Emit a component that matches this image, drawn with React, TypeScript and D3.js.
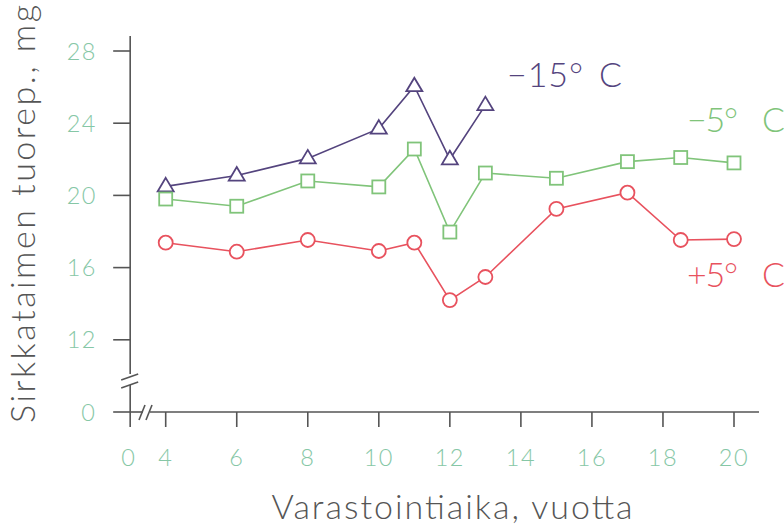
import React from "react";
import * as d3 from "d3";

const years = [4, 6, 8, 10, 11, 12, 13, 15, 17, 18.5, 20];
const minus15 = [20.5, 21.1, 22.05, 23.7, 26.05, 22.0, 25.0];
const minus5 = [19.8, 19.4, 20.8, 20.47, 22.57, 17.97, 21.24, 20.95, 21.87, 22.1, 21.8];
const plus5 = [17.38, 16.88, 17.53, 16.92, 17.38, 14.2, 15.48, 19.25, 20.15, 17.53, 17.58];

const xTicks = [4, 6, 8, 10, 12, 14, 16, 18, 20];
const yTicks = [12, 16, 20, 24, 28];
const seriesLabels = [
  { name: "−15°", unit: "C" },
  { name: "−5°", unit: "C" },
  { name: "+5°", unit: "C" },
];
const xTitle = "Varastointiaika, vuotta";
const yTitle = "Sirkkataimen tuorep., mg";

const W = 784;
const H = 527;
const FONT = "Lato, 'DejaVu Sans', sans-serif";
const AXIS = "#555555";
const TICKC = "#86c7a6";
const PURPLE = "#54447e";
const GREEN = "#80c47a";
const RED = "#e8525e";

// broken axes: visual "0" sits one unit left of 4 on x, and at 8 on y
const x = d3.scaleLinear().domain([4, 20]).range([165.7, 734]);
const y = d3.scaleLinear().domain([8, 28]).range([412, 51]);

export default function App() {
  const s15 = minus15.map((v, i) => [years[i], v] as [number, number]);
  const s5 = minus5.map((v, i) => [years[i], v] as [number, number]);
  const p5 = plus5.map((v, i) => [years[i], v] as [number, number]);
  const line = d3
    .line<[number, number]>()
    .x((d) => x(d[0]))
    .y((d) => y(d[1]));

  const x0 = x(3); // position of the "0" on x
  const y0 = y(8); // position of the "0" on y
  const yAxisX = x0;
  const xEnd = 759;

  const tri = (cx: number, cy: number) =>
    `M${cx},${cy - 8.5}L${cx + 8},${cy + 5}L${cx - 8},${cy + 5}Z`;

  return (
    <svg
      width={W}
      height={H}
      style={{ position: "absolute", left: 0, top: 0, background: "#fff" }}
      fontFamily={FONT}
    >
      {/* Y axis with break */}
      <line x1={yAxisX} x2={yAxisX} y1={36} y2={374} stroke={AXIS} strokeWidth={1.6} />
      <line x1={yAxisX} x2={yAxisX} y1={385} y2={427} stroke={AXIS} strokeWidth={1.6} />
      <line x1={yAxisX - 9} y1={380} x2={yAxisX + 8} y2={374} stroke={AXIS} strokeWidth={1.6} />
      <line x1={yAxisX - 9} y1={388} x2={yAxisX + 8} y2={382} stroke={AXIS} strokeWidth={1.6} />
      {yTicks.map((t) => (
        <g key={t}>
          <line x1={yAxisX - 17} x2={yAxisX} y1={y(t)} y2={y(t)} stroke={AXIS} strokeWidth={1.6} />
          <text x={97} y={y(t) + 8.5} textAnchor="end" fontSize={23.5} fontWeight={300} fill={TICKC} letterSpacing={1.5}>
            {t}
          </text>
        </g>
      ))}
      <line x1={yAxisX - 17} x2={yAxisX} y1={y0} y2={y0} stroke={AXIS} strokeWidth={1.6} />
      <text x={95} y={y0 + 8.5} textAnchor="end" fontSize={23.5} fontWeight={300} fill={TICKC}>
        0
      </text>

      {/* X axis with break */}
      <line x1={yAxisX} x2={143} y1={y0} y2={y0} stroke={AXIS} strokeWidth={1.6} />
      <line x1={150} x2={xEnd} y1={y0} y2={y0} stroke={AXIS} strokeWidth={1.6} />
      <line x1={139} y1={420} x2={145} y2={405} stroke={AXIS} strokeWidth={1.6} />
      <line x1={146} y1={420} x2={152} y2={405} stroke={AXIS} strokeWidth={1.6} />
      {xTicks.map((t) => (
        <g key={t}>
          <line x1={x(t)} x2={x(t)} y1={y0} y2={y0 + 15} stroke={AXIS} strokeWidth={1.6} />
          <text x={x(t)} y={466} textAnchor="middle" fontSize={23.5} fontWeight={300} fill={TICKC} letterSpacing={1.5}>
            {t}
          </text>
        </g>
      ))}
      <text x={x0 - 2} y={466} textAnchor="middle" fontSize={23.5} fontWeight={300} fill={TICKC}>
        0
      </text>

      {/* Titles */}
      <text
        x={452}
        y={519}
        textAnchor="middle"
        fontSize={34}
        fontWeight={300}
        fill={AXIS}
        textLength={361}
        lengthAdjust="spacing"
      >
        {xTitle}
      </text>
      <text
        transform="translate(35,214) rotate(-90)"
        textAnchor="middle"
        fontSize={34}
        fontWeight={300}
        fill={AXIS}
        textLength={418}
        lengthAdjust="spacing"
      >
        {yTitle}
      </text>

      {/* Lines */}
      <path d={line(s15) || ""} fill="none" stroke={PURPLE} strokeWidth={1.6} />
      <path d={line(s5) || ""} fill="none" stroke={GREEN} strokeWidth={1.6} />
      <path d={line(p5) || ""} fill="none" stroke={RED} strokeWidth={1.6} />

      {/* Markers */}
      {s15.map((d, i) => (
        <path key={"t" + i} d={tri(x(d[0]), y(d[1]))} fill="#fff" stroke={PURPLE} strokeWidth={1.8} />
      ))}
      {s5.map((d, i) => (
        <rect
          key={"s" + i}
          x={x(d[0]) - 6.5}
          y={y(d[1]) - 6.5}
          width={13}
          height={13}
          fill="#fff"
          stroke={GREEN}
          strokeWidth={1.8}
        />
      ))}
      {p5.map((d, i) => (
        <circle key={"c" + i} cx={x(d[0])} cy={y(d[1])} r={7} fill="#fff" stroke={RED} strokeWidth={1.8} />
      ))}

      {/* Series labels */}
      <g fontSize={34} fontWeight={300}>
        <text x={507} y={87} fill={PURPLE} textLength={76} lengthAdjust="spacing">
          {seriesLabels[0].name}
        </text>
        <text x={599} y={87} fill={PURPLE}>
          {seriesLabels[0].unit}
        </text>
        <text x={687} y={132} fill={GREEN} textLength={51} lengthAdjust="spacing">
          {seriesLabels[1].name}
        </text>
        <text x={762} y={132} fill={GREEN}>
          {seriesLabels[1].unit}
        </text>
        <text x={687} y={287} fill={RED} textLength={51} lengthAdjust="spacing">
          {seriesLabels[2].name}
        </text>
        <text x={762} y={287} fill={RED}>
          {seriesLabels[2].unit}
        </text>
      </g>
    </svg>
  );
}
